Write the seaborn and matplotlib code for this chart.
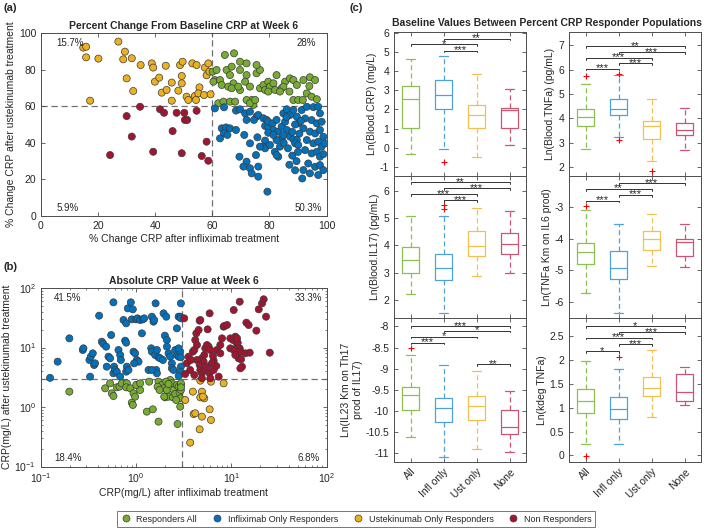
import numpy as np
import pandas as pd
import matplotlib
matplotlib.use("Agg")
import matplotlib.pyplot as plt
from matplotlib.lines import Line2D
import seaborn as sns

# colours (MATLAB default order)
GREEN, BLUE, YELLOW, RED = "#77AC30", "#0072BD", "#EDB120", "#A2142F"
BOX_COLS = ["#8cc152", "#4fa3dd", "#f0c050", "#cc5574"]
GROUPS = ["Responders All", "Infliximab Only Responders",
          "Ustekinumab Only Responders", "Non Responders"]

# ---------------- panel (a): % change CRP ----------------
a_yellow_x = [14.8, 15.8, 15.8, 20.1, 17.2, 27.1, 29.4, 28.8, 31.8, 30.0, 32.3, 34.9, 38.8, 39.3,
              39.9, 41.4, 42.3, 44.0, 43.7, 45.8, 45.8, 48.1, 48.7, 49.6, 49.3, 49.3, 51.0, 51.6,
              53.9, 53.0, 54.5, 55.5, 55.1, 54.3, 57.1, 57.4, 58.0, 58.6, 59.0, 59.4]
a_yellow_y = [92.0, 92.5, 86.7, 86.0, 63.0, 95.3, 89.8, 85.6, 86.2, 75.2, 68.3, 82.5, 83.4, 81.1,
              73.4, 75.6, 67.4, 68.9, 82.1, 72.9, 63.0, 68.5, 82.5, 84.3, 76.5, 72.5, 65.2, 63.4,
              65.6, 83.4, 82.5, 70.3, 67.0, 63.4, 66.1, 81.1, 76.9, 83.4, 78.9, 66.5]
a_red_x = [39.3, 49.3, 56.3, 58.6, 58.0, 46.1, 41.7, 43.1, 47.5, 50.2, 50.4, 51.2, 54.5,
           34.7, 30.0, 31.8, 24.2]
a_red_y = [35.1, 34.3, 32.8, 30.2, 40.6, 46.4, 58.3, 56.4, 56.4, 56.4, 52.5, 52.5, 57.5,
           59.7, 54.6, 43.4, 33.3]
a_green_x = [60.1, 60.9, 60.4, 61.5, 62.7, 65.0, 64.4, 67.6, 69.7, 66.8, 66.2, 63.3, 67.4, 65.6,
             66.8, 69.7, 72.0, 71.5, 69.7, 73.2, 73.8, 72.0, 74.4, 73.2, 75.0, 75.5, 76.7, 75.5,
             72.0, 62.1, 63.9, 66.2, 68.0, 69.1, 76.7, 77.9, 78.5, 79.6, 80.2, 81.4, 82.5, 82.0,
             84.3, 85.5, 84.9, 87.2, 88.4, 89.6, 88.4, 90.1, 87.0, 83.7, 79.6, 91.9, 94.2, 96.0,
             93.1, 94.8, 96.6, 91.7, 94.0]
a_green_y = [78.9, 74.3, 73.4, 79.8, 74.3, 79.8, 88.0, 88.9, 84.3, 81.6, 77.0, 71.6, 72.5, 70.7,
             69.8, 79.8, 77.0, 73.4, 68.8, 70.7, 63.4, 63.4, 60.7, 61.6, 63.4, 78.0, 79.8, 82.5,
             83.4, 61.6, 62.5, 62.5, 62.5, 70.7, 69.8, 71.6, 68.9, 73.4, 70.7, 72.5, 77.0, 68.9,
             69.8, 73.4, 70.7, 75.2, 74.3, 71.6, 63.4, 63.4, 68.0, 68.0, 68.0, 74.3, 75.8, 74.3,
             67.0, 65.2, 63.8, 63.4, 71.0]
a_blue_x = [60.9, 64.1, 68.3, 69.7, 71.5, 73.2, 75.5, 74.6, 76.1, 77.9, 78.5, 79.6, 79.0, 79.6,
            81.1, 81.4, 83.1, 84.3, 82.5, 84.9, 86.1, 87.2, 88.4, 89.6, 90.1, 85.5, 86.1, 87.2,
            88.4, 89.6, 89.0, 90.1, 84.3, 82.5, 83.7, 84.9, 78.5, 77.9, 78.5, 80.2, 81.9, 83.1,
            82.5, 63.3, 64.8, 66.2, 64.1, 65.3, 62.7, 68.3, 71.2, 73.2, 72.0, 75.8, 69.5, 72.0,
            70.9, 73.2, 73.8, 76.1, 79.3, 76.1, 75.3, 76.7, 79.6, 81.4,
            91.3, 93.1, 95.4, 97.1, 97.7, 92.5, 94.8, 96.6, 98.3, 91.9, 94.2, 96.0, 97.7, 98.9,
            93.1, 95.4, 97.1, 98.3, 99.5, 92.5, 94.8, 96.6, 97.7, 98.9, 93.6, 96.0, 97.7, 91.9,
            94.2, 97.1, 98.9, 86.5, 88.0, 89.5, 87.0, 90.5, 91.0, 89.0, 86.0, 88.0, 90.0, 85.0,
            91.5, 89.0]
a_blue_y = [58.8, 59.4, 57.6, 58.3, 56.1, 57.0, 54.3, 52.5, 55.2, 53.4, 49.2, 48.8, 52.5, 51.5,
            50.6, 47.0, 46.1, 48.8, 52.5, 56.1, 58.3, 55.2, 57.9, 54.3, 50.6, 51.5, 47.0, 43.4,
            41.9, 41.5, 39.7, 38.8, 42.4, 41.5, 37.9, 44.3, 41.2, 37.9, 37.0, 38.8, 35.1, 32.4,
            33.3, 47.9, 48.4, 47.9, 45.2, 44.3, 42.4, 47.0, 44.3, 39.7, 52.5, 43.0, 32.4, 29.7,
            27.0, 26.1, 23.3, 21.5, 13.3, 27.0, 33.3, 37.9, 45.5, 44.3,
            57.9, 59.7, 59.5, 59.7, 56.1, 53.3, 52.4, 50.6, 51.5, 47.9, 46.1, 45.1, 47.0, 43.3,
            41.5, 39.7, 40.6, 37.9, 39.7, 36.0, 34.2, 35.1, 32.4, 33.8, 28.7, 26.9, 27.8, 25.1,
            23.3, 22.4, 25.1, 37.0, 33.0, 30.0, 28.0, 45.0, 52.0, 50.0, 54.0, 46.0, 35.0, 40.0,
            20.5, 25.0]
a_pct = ["15.7%", "28%", "5.9%", "50.3%"]

# ---------------- panel (b): absolute CRP, log10 values ----------------
b_blue_lx = [-0.905, -0.825, -0.702, -0.561, -0.554, -0.491, -0.477, -0.456, -0.442, -0.432,
             -0.484, -0.389, -0.361, -0.344, -0.316, -0.291, -0.309, -0.274, -0.263, -0.239,
             -0.232, -0.221, -0.204, -0.168, -0.186, -0.168, -0.161, -0.116, -0.105, -0.133,
             -0.105, -0.088, -0.046, -0.056, -0.035, 0.000, 0.014, 0.042, 0.070, 0.084, 0.060,
             -0.028, -0.011, 0.007, 0.025, -0.021, -0.098, -0.105, -0.081, -0.239, 0.204, 0.165,
             0.182, 0.189, 0.158, 0.165, 0.200, 0.218, 0.235, 0.253, 0.281, 0.130, 0.211, 0.218,
             0.288, 0.316, 0.302, 0.323, 0.323, 0.340, 0.358, 0.375, 0.375, 0.393, 0.411, 0.428,
             0.446, 0.463, 0.446, 0.428, 0.446, 0.463, 0.470, 0.470, 0.470, 0.470, 0.463, 0.446,
             0.165]
b_blue_ly = [0.490, 0.762, 1.154, 0.958, 0.986, 0.790, 0.846, 0.902, 0.706, 0.734,
             0.510, 1.535, 1.098, 1.059, 1.014, 0.846, 0.678, 0.818, 1.210, 0.566,
             0.678, 0.622, 0.594, 0.510, 0.958, 0.874, 0.790, 1.115, 1.081, 1.462,
             1.406, 1.658, 1.473, 1.759, 1.641, 1.473, 1.490, 1.462, 1.473, 1.490, 1.238,
             0.930, 0.902, 0.790, 0.762, 0.734, 0.678, 0.594, 0.622, 1.759, 1.742, 1.518,
             1.434, 1.462, 0.986, 0.930, 0.874, 0.958, 0.835, 0.818, 0.790, 0.622, 0.622, 0.566,
             1.574, 1.518, 1.199, 1.126, 1.014, 0.902, 0.846, 0.734, 0.650, 0.622, 0.958, 0.874,
             0.846, 0.930, 0.986, 1.322, 1.518, 1.518, 1.490, 1.742, 0.835, 0.678, 0.594, 0.521,
             0.622]
b_green_lx = [-0.702, -0.326, -0.274, -0.256, -0.239, -0.204, -0.175, -0.151, -0.098, -0.105,
              -0.063, -0.046, -0.035, -0.028, -0.011, 0.007, 0.042, 0.000, 0.042, 0.112, 0.175,
              0.137, 0.235, 0.235, 0.270, 0.288, 0.305, 0.323, 0.340, 0.358, 0.375, 0.386, 0.393,
              0.411, 0.428, 0.446, 0.456, 0.463, 0.470, 0.470, 0.470, 0.463, 0.435, 0.470, 0.225,
              0.246, 0.316, 0.295, 0.340, 0.421]
b_green_ly = [0.258, 0.314, 0.398, 0.230, 0.185, 0.331, 0.342, 0.398, 0.398, 0.331,
              0.314, 0.073, 0.034, 0.230, 0.174, 0.370, 0.286, 0.370, 0.398, -0.078, -0.039,
              0.426, -0.246, 0.426, 0.370, 0.314, 0.162, 0.286, 0.174, 0.454, 0.398, 0.162, 0.286,
              0.219, 0.370, 0.342, 0.241, 0.146, 0.370, 0.398, 0.286, 0.006, -0.286, 0.331, 0.342,
              0.286, 0.426, 0.174, 0.386, 0.118]
b_yellow_lx = [0.516, 0.596, 0.674, 0.691, 0.786, 0.919, 0.674, 0.716, 0.702, 0.772, 0.604,
               0.621, 0.691, 0.786, 0.667, 0.568]
b_yellow_ly = [0.118, 0.258, 0.443, 0.258, 0.426, 0.398, 0.162, 0.146, 0.174, -0.039, -0.118,
               -0.106, -0.162, -0.218, -0.375, -0.599]
b_red_lx = [0.505, 0.568, 0.596, 0.611, 0.621, 0.632, 0.639, 0.656, 0.667, 0.674, 0.691, 0.709,
            0.716, 0.726, 0.744, 0.761, 0.779, 0.772, 0.751, 0.639, 0.667, 0.674, 0.691, 0.726,
            0.744, 0.772, 0.814, 0.814, 0.842, 0.807, 0.867, 0.849, 0.884, 0.902, 0.919, 0.926,
            0.954, 0.989, 1.018, 1.042, 1.060, 1.067, 1.088, 1.095, 1.077, 1.102, 1.112, 1.095,
            1.147, 1.158, 1.182, 1.193, 1.263, 1.288, 1.323, 1.340, 1.365, 1.404, 1.025, 1.088,
            0.533, 0.551, 0.516, 0.575, 0.611, 0.691, 0.779, 0.796, 0.884, 0.989, 1.025, 1.042,
            1.060]
b_red_ly = [1.490, 0.622, 0.930, 0.958, 1.126, 1.238, 1.042, 1.294, 1.451, 1.462, 0.818, 0.762,
            0.874, 0.986, 1.042, 1.014, 0.958, 1.574, 1.305, 0.790, 0.706, 0.622, 0.566, 0.622,
            0.678, 0.566, 0.622, 0.779, 0.689, 0.857, 0.510, 0.958, 1.042, 1.154, 1.350, 1.361,
            1.378, 1.154, 1.126, 1.182, 1.059, 1.081, 0.986, 0.930, 0.818, 0.801, 0.678, 0.650,
            0.902, 1.417, 1.378, 0.913, 1.283, 1.641, 1.742, 1.810, 1.518, 0.913, 1.630, 1.770,
            0.734, 0.846, 0.555, 0.790, 0.538, 0.482, 0.482, 0.734, 0.902, 0.986, 0.958, 0.874,
            1.154]
b_pct = ["41.5%", "33.3%", "18.4%", "6.8%"]

# ---------------- panel (c): box summaries (All, Infl only, Ust only, None) ----------------
cats = ["All", "Infl only", "Ust only", "None"]

crp_med = [2.53, 2.75, 1.70, 1.97]
crp_q1 = [1.05, 2.04, 1.05, 1.05]
crp_q3 = [3.25, 3.54, 2.23, 2.07]
crp_lo = [-0.32, -0.05, -0.49, 0.12]
crp_hi = [4.63, 4.77, 3.86, 3.05]
crp_out = [[], [-0.75], [], []]

tnf_med = [4.07, 4.38, 3.67, 3.51]
tnf_q1 = [3.67, 4.15, 3.16, 3.33]
tnf_q3 = [4.40, 4.81, 3.89, 3.81]
tnf_lo = [2.73, 3.23, 2.25, 2.68]
tnf_hi = [5.42, 5.77, 4.78, 4.42]
tnf_out = [[5.75], [5.84, 3.10], [1.84], []]

il17_med = [3.48, 3.19, 3.98, 4.06]
il17_q1 = [2.98, 2.75, 3.62, 3.70]
il17_q3 = [3.93, 3.70, 4.51, 4.47]
il17_lo = [2.23, 1.54, 2.87, 2.98]
il17_hi = [5.09, 5.09, 5.38, 5.27]
il17_out = [[], [5.48, 5.32], [], []]

il6_med = [-4.42, -4.91, -4.02, -4.10]
il6_q1 = [-4.81, -5.28, -4.36, -4.55]
il6_q3 = [-4.12, -4.38, -3.75, -4.02]
il6_lo = [-5.70, -6.34, -4.85, -4.90]
il6_hi = [-3.10, -3.52, -3.21, -3.52]
il6_out = [[-2.97], [], [], []]

il23_med = [-9.62, -9.94, -9.89, -10.38]
il23_q1 = [-9.98, -10.27, -10.21, -10.55]
il23_q3 = [-9.43, -9.69, -9.65, -9.97]
il23_lo = [-10.62, -11.08, -10.90, -10.98]
il23_hi = [-8.68, -8.91, -9.06, -9.52]
il23_out = [[-8.52], [], [], []]

kdeg_med = [1.15, 0.97, 1.41, 1.32]
kdeg_q1 = [0.90, 0.77, 1.25, 1.14]
kdeg_q3 = [1.39, 1.22, 1.65, 1.71]
kdeg_lo = [0.24, 0.24, 0.81, 1.06]
kdeg_hi = [1.98, 1.82, 2.21, 1.85]
kdeg_out = [[-0.02], [2.07], [], []]

# significance brackets: (pair, height, stars)
crp_sig = [((2, 4), 5.70, "**"), ((1, 3), 5.42, "*"), ((2, 3), 5.08, "***")]
tnf_sig = [((1, 4), 6.96, "**"), ((2, 4), 6.72, "***"), ((1, 3), 6.49, "***"),
           ((2, 3), 6.27, "***"), ((1, 2), 6.04, "***")]
il17_sig = [((1, 4), 6.31, "**"), ((2, 4), 6.09, "***"), ((1, 3), 5.87, "***"),
            ((2, 3), 5.65, "***")]
il6_sig = [((2, 4), -2.25, "***"), ((1, 3), -2.42, "**"), ((2, 3), -2.61, "***"),
           ((1, 2), -2.79, "***")]
il23_sig = [((1, 4), -7.99, "***"), ((2, 4), -8.10, "*"), ((1, 3), -8.24, "*"),
            ((1, 2), -8.38, "***"), ((3, 4), -8.90, "**")]
kdeg_sig = [((1, 4), 2.71, "*"), ((2, 4), 2.58, "***"), ((1, 3), 2.47, "***"),
            ((2, 3), 2.33, "***"), ((1, 2), 2.19, "*")]

# ---------------------------------------------------------------------------
sns.set_style("ticks")
plt.rcParams["font.family"] = ["Liberation Sans", "DejaVu Sans"]
plt.rcParams["axes.unicode_minus"] = False
plt.rcParams["font.size"] = 7
AX_COL = "#4d4d4d"

fig = plt.figure(figsize=(7.09, 5.28), dpi=100)
W, H = 709, 528


def add_ax(l, t, r, b):
    return fig.add_axes([l / W, 1 - b / H, (r - l) / W, (b - t) / H])


def style(ax):
    for s in ax.spines.values():
        s.set_color(AX_COL)
        s.set_linewidth(0.7)
    ax.tick_params(direction="in", top=True, right=True, length=3, width=0.6,
                   colors=AX_COL, labelcolor="#262626", labelsize=7.5)
    ax.tick_params(which="minor", direction="in", top=True, right=True, length=1.6,
                   width=0.5, colors=AX_COL)


def scatter_df(parts):
    frames = [pd.DataFrame({"x": x, "y": y, "group": g}) for x, y, g in parts]
    return pd.concat(frames, ignore_index=True)


pal = dict(zip(GROUPS, [GREEN, BLUE, YELLOW, RED]))
pt = dict(s=26, edgecolor="#3a3a3a", linewidth=0.5, legend=False, palette=pal, hue="group")

# (a)
ax_a = add_ax(41, 33, 326.5, 216)
df_a = scatter_df([(a_yellow_x, a_yellow_y, GROUPS[2]), (a_red_x, a_red_y, GROUPS[3]),
                   (a_green_x, a_green_y, GROUPS[0]), (a_blue_x, a_blue_y, GROUPS[1])])
sns.scatterplot(data=df_a, x="x", y="y", ax=ax_a, **pt)
ax_a.axvline(60, color="#707070", ls=(0, (5, 3)), lw=0.9, zorder=0)
ax_a.axhline(60, color="#707070", ls=(0, (5, 3)), lw=0.9, zorder=0)
ax_a.set_xlim(0, 100)
ax_a.set_ylim(0, 100)
ax_a.set_xticks(range(0, 101, 20))
ax_a.set_yticks(range(0, 101, 20))
ax_a.set_xlabel("% Change CRP after infliximab treatment", fontsize=7.5, labelpad=2)
ax_a.set_ylabel("% Change CRP after ustekinumab treatment", fontsize=7.5, labelpad=2)
ax_a.set_title("Percent Change From Baseline CRP at Week 6", fontsize=7.5,
               fontweight="bold", pad=3)
style(ax_a)
kw = dict(transform=ax_a.transAxes, fontsize=7, color="#262626")
ax_a.text(0.055, 0.945, a_pct[0], ha="left", va="center", **kw)
ax_a.text(0.965, 0.945, a_pct[1], ha="right", va="center", **kw)
ax_a.text(0.055, 0.045, a_pct[2], ha="left", va="center", **kw)
ax_a.text(0.985, 0.045, a_pct[3], ha="right", va="center", **kw)

# (b)
ax_b = add_ax(41, 288, 326.5, 466.5)
df_b = scatter_df([(10 ** np.array(b_blue_lx), 10 ** np.array(b_blue_ly), GROUPS[1]),
                   (10 ** np.array(b_green_lx), 10 ** np.array(b_green_ly), GROUPS[0]),
                   (10 ** np.array(b_yellow_lx), 10 ** np.array(b_yellow_ly), GROUPS[2]),
                   (10 ** np.array(b_red_lx), 10 ** np.array(b_red_ly), GROUPS[3])])
sns.scatterplot(data=df_b, x="x", y="y", ax=ax_b, **pt)
ax_b.set_xscale("log")
ax_b.set_yscale("log")
ax_b.axvline(3, color="#707070", ls=(0, (5, 3)), lw=0.9, zorder=0)
ax_b.axhline(3, color="#707070", ls=(0, (5, 3)), lw=0.9, zorder=0)
ax_b.set_xlim(0.1, 100)
ax_b.set_ylim(0.1, 100)
ax_b.set_xlabel("CRP(mg/L) after infliximab treatment", fontsize=7.5, labelpad=2)
ax_b.set_ylabel("CRP(mg/L) after ustekinumab treatment", fontsize=7.5, labelpad=2)
ax_b.set_title("Absolute CRP Value at Week 6", fontsize=7.5, fontweight="bold", pad=3)
style(ax_b)
kw = dict(transform=ax_b.transAxes, fontsize=7, color="#262626")
ax_b.text(0.045, 0.945, b_pct[0], ha="left", va="center", **kw)
ax_b.text(0.985, 0.945, b_pct[1], ha="right", va="center", **kw)
ax_b.text(0.045, 0.045, b_pct[2], ha="left", va="center", **kw)
ax_b.text(0.975, 0.045, b_pct[3], ha="right", va="center", **kw)

# (c)
cols = [(394, 526), (569, 701)]
rows = [(32, 175.5), (175.5, 318), (318, 461.7)]
panels = [
    (0, 0, "Ln(Blood.CRP) (mg/L)", (crp_med, crp_q1, crp_q3, crp_lo, crp_hi, crp_out),
     crp_sig, (-1.45, 6.05), np.arange(-1, 7, 1)),
    (0, 1, "Ln(Blood.TNFa) (pg/mL)", (tnf_med, tnf_q1, tnf_q3, tnf_lo, tnf_hi, tnf_out),
     tnf_sig, (1.65, 7.55), np.arange(2, 8, 1)),
    (1, 0, "Ln(Blood.IL17) (pg/mL)", (il17_med, il17_q1, il17_q3, il17_lo, il17_hi, il17_out),
     il17_sig, (1.35, 6.55), np.arange(2, 7, 1)),
    (1, 1, "Ln(TNFa Km on IL6 prod)", (il6_med, il6_q1, il6_q3, il6_lo, il6_hi, il6_out),
     il6_sig, (-6.5, -2.0), np.arange(-6, -2, 1)),
    (2, 0, "Ln(IL23 Km on Th17\nprod of IL17)",
     (il23_med, il23_q1, il23_q3, il23_lo, il23_hi, il23_out),
     il23_sig, (-11.2, -7.8), np.arange(-11, -7.9, 0.5)),
    (2, 1, "Ln(kdeg TNFa)", (kdeg_med, kdeg_q1, kdeg_q3, kdeg_lo, kdeg_hi, kdeg_out),
     kdeg_sig, (-0.13, 2.88), np.arange(0, 2.6, 0.5)),
]

for r, c, ylab, (med, q1, q3, lo, hi, out), sig, ylim, yt in panels:
    ax = add_ax(cols[c][0], rows[r][0], cols[c][1], rows[r][1])
    for k in range(4):
        col = BOX_COLS[k]
        st = [dict(med=med[k], q1=q1[k], q3=q3[k], whislo=lo[k], whishi=hi[k], fliers=out[k])]
        ax.bxp(st, positions=[k + 1], widths=0.5, capwidths=0.25,
               boxprops=dict(color=col, lw=0.9), medianprops=dict(color=col, lw=0.9),
               whiskerprops=dict(color=col, lw=0.9, ls=(0, (4, 2.5))),
               capprops=dict(color=col, lw=0.9),
               flierprops=dict(marker="+", markeredgecolor="red", markersize=5, mew=0.8))
    ax.set_xlim(0.5, 4.5)
    ax.set_ylim(*ylim)
    ax.set_yticks(yt)
    ax.set_yticklabels(["%g" % v for v in yt])
    ax.set_xticks([1, 2, 3, 4])
    if r == 2:
        ax.set_xticklabels(cats, rotation=45, ha="right", rotation_mode="anchor")
    else:
        ax.set_xticklabels([])
    d = (ylim[1] - ylim[0]) * 0.012
    for (i, j), y, s in sig:
        ax.plot([i, i, j, j], [y - d, y, y, y - d], color="#333333", lw=0.7)
        ax.text((i + j) / 2, y + d * 0.2, s, ha="center", va="center", fontsize=8,
                color="#262626")
    ax.set_ylabel(ylab, fontsize=7.5, labelpad=2)
    style(ax)

fig.text(547 / W, 1 - 23 / H, "Baseline Values Between Percent CRP Responder Populations",
         ha="center", va="center", fontsize=7.5, fontweight="bold")

# panel labels
fig.text(3 / W, 1 - 8 / H, "(a)", fontsize=8, fontweight="bold", va="center")
fig.text(3 / W, 1 - 267 / H, "(b)", fontsize=8, fontweight="bold", va="center")
fig.text(349 / W, 1 - 8 / H, "(c)", fontsize=8, fontweight="bold", va="center")

# legend
handles = [Line2D([], [], ls="", marker="o", markersize=5, markerfacecolor=pal[g],
                  markeredgecolor="#3a3a3a", markeredgewidth=0.5) for g in GROUPS]
leg = fig.legend(handles, GROUPS, loc="center", bbox_to_anchor=(356 / W, 1 - 519 / H),
                 ncol=4, fontsize=6.5, frameon=True, fancybox=False, handletextpad=0.6,
                 columnspacing=1.6, borderpad=0.35, handlelength=1.2)
leg.get_frame().set_edgecolor("#555555")
leg.get_frame().set_linewidth(0.7)

fig.savefig("out.png", dpi=100)
